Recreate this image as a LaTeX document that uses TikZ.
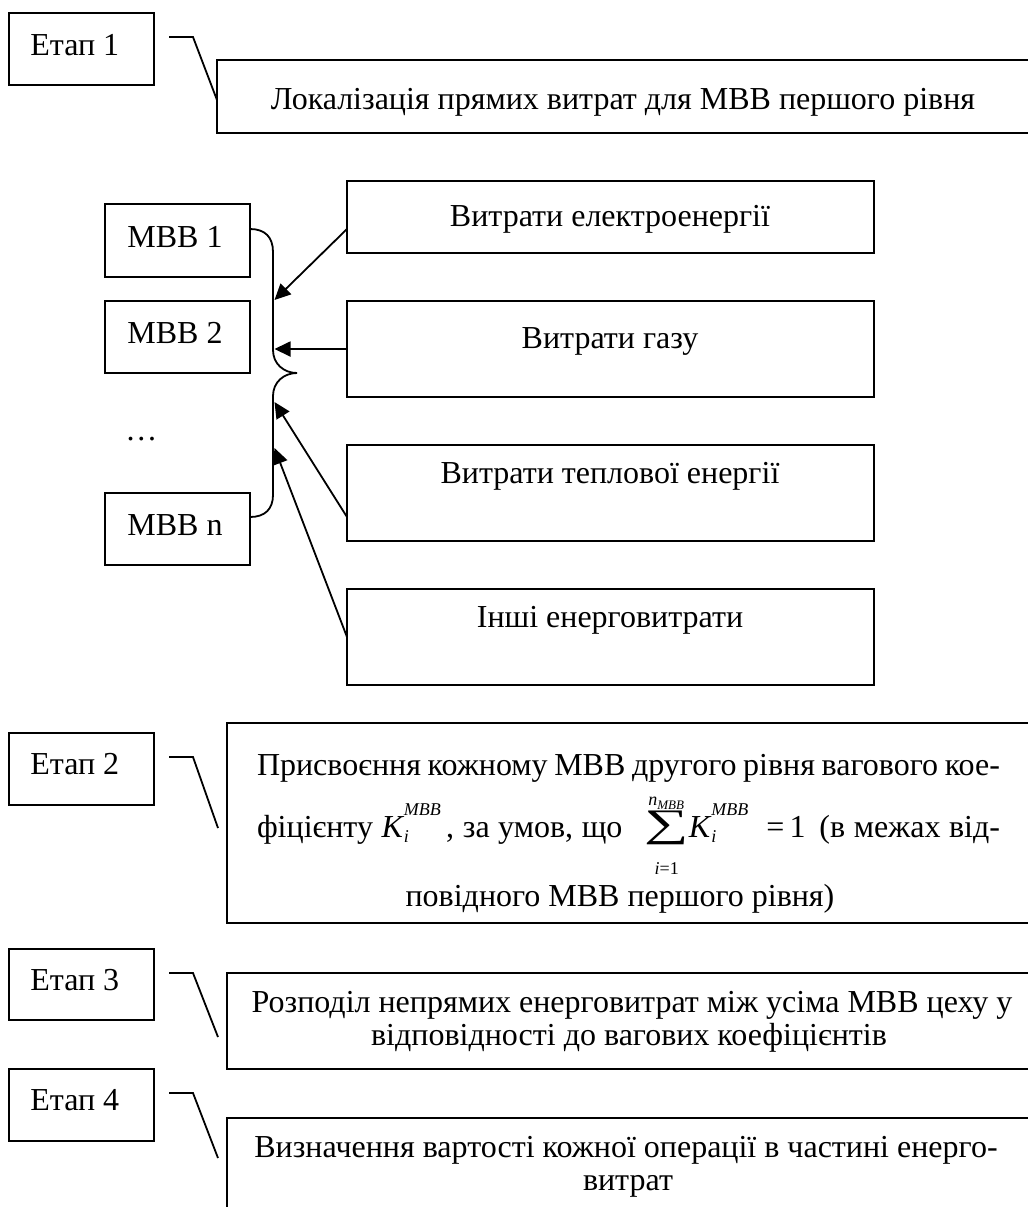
\documentclass[tikz,border=0pt]{standalone}
\usepackage{fontspec}
\usepackage{graphicx}
\setmainfont{Liberation Serif}
\usetikzlibrary{arrows.meta}
\newcommand\smallit[1]{\mbox{\fontsize{9}{9}\selectfont\itshape #1}}
\newcommand\tinyit[1]{\mbox{\fontsize{6.5}{6.5}\selectfont\itshape #1}}
\newcommand\KM{\mbox{\itshape K\kern0.5pt\rlap{\raisebox{11pt}{\smallit{MBB}}}\rlap{\raisebox{-2.5pt}{\smallit{i}}}\hphantom{\smallit{MBB}}}}
\newcommand\SumL{$\mathop{\vcenter{\hbox{\scalebox{1.6}[1]{\fontsize{19.5}{19.5}\selectfont ∑}}}}\limits^{\smallit{n}_{\tinyit{MBB}}}_{\smallit{\rule{0pt}{13pt}i\/\upshape =1}}$}
\newcommand\bxat[5]{\node[bx,minimum width=#4*0.5pt,minimum height=#5*0.5pt] (#1) at (#2,#3) {};}
\tikzset{
  ln/.style={line width=0.9pt},
  bx/.style={draw, line width=0.9pt, inner sep=0pt, outer sep=0pt, anchor=north west},
  tx/.style={inner sep=0pt, anchor=base},
  txl/.style={inner sep=0pt, anchor=base west},
  arr/.style={line width=0.9pt, -{Triangle[length=8pt,width=7.5pt]}},
}
\begin{document}
\begin{tikzpicture}[x=0.5pt,y=-0.5pt,font=\fontsize{16}{19}\selectfont]
\useasboundingbox (0,0) rectangle (1028,1207);
\fill[white] (0,0) rectangle (1028,1207);
\clip (0,0) rectangle (1028,1207);

% stage boxes
\bxat{s1}{9}{13}{145}{72}
\bxat{s2}{9}{733}{145}{72}
\bxat{s3}{9}{949}{145}{71}
\bxat{s4}{9}{1069}{145}{72}
\node[txl] (s1t) at (30,55) {Етап 1};
\node[txl] (s2t) at (30,774) {Етап 2};
\node[txl] (s3t) at (30,990) {Етап 3};
\node[txl] (s4t) at (30,1110) {Етап 4};

% description boxes
\bxat{d1}{217}{60}{830}{73}
\bxat{d2}{227}{723}{820}{200}
\bxat{d3}{227}{973}{820}{96}
\bxat{d4}{227}{1118}{820}{140}

\node[tx] (d1t) at (623,109) {Локалізація прямих витрат для МВВ першого рівня};
\node[tx] (d2a) at (628.5,775) {\makebox[371.5pt][s]{Присвоєння кожному МВВ другого рівня вагового кое-}};
\node[tx] (d2b) at (628.5,837) {\makebox[371.5pt][s]{фіцієнту \KM\,, за умов, що\hspace{11pt}\SumL\KM\hspace{9pt}=\,1\, (в межах від-}};
\node[tx] (d2c) at (620,906) {повідного МВВ першого рівня)};
\node[tx] (d3a) at (632,1012) {Розподіл непрямих енерговитрат між усіма МВВ цеху у};
\node[tx] (d3b) at (629,1045) {відповідності до вагових коефіцієнтів};
\node[tx] (d4a) at (626,1157) {Визначення вартості кожної операції в частині енерго-};
\node[tx] (d4b) at (628,1190) {витрат};

% stage connectors
\coordinate (k1a) at (169,37);   \coordinate (k1b) at (193,37);   \coordinate (k1c) at (217,100);
\coordinate (k2a) at (169,757);  \coordinate (k2b) at (193,757);  \coordinate (k2c) at (218,828);
\coordinate (k3a) at (169,973);  \coordinate (k3b) at (193,973);  \coordinate (k3c) at (218,1037);
\coordinate (k4a) at (169,1093); \coordinate (k4b) at (193,1093); \coordinate (k4c) at (218,1158);
\draw[ln] (k1a) -- (k1b) -- (k1c);
\draw[ln] (k2a) -- (k2b) -- (k2c);
\draw[ln] (k3a) -- (k3b) -- (k3c);
\draw[ln] (k4a) -- (k4b) -- (k4c);

% energy boxes
\bxat{el}{347}{181}{527}{72}
\bxat{gas}{347}{301}{527}{96}
\bxat{heat}{347}{445}{527}{96}
\bxat{oth}{347}{589}{527}{96}
\node[tx] (elt) at (610,226) {Витрати електроенергії};
\node[tx] (gast) at (610,348) {Витрати газу};
\node[tx] (heatt) at (610,483) {Витрати теплової енергії};
\node[tx] (otht) at (610,627) {Інші енерговитрати};

% MBB boxes
\bxat{m1}{105}{204}{145}{73}
\bxat{m2}{105}{301}{145}{72}
\bxat{mn}{105}{493}{145}{72}
\node[txl] (m1t) at (127,247) {МВВ 1};
\node[txl] (m2t) at (127,343) {МВВ 2};
\node[txl] (mnt) at (127,535) {МВВ n};
\node[txl] (dots) at (125,440) {\dots};

% brace
\coordinate (b0) at (250,229);
\coordinate (b1) at (273,252);
\coordinate (b2) at (273,350);
\coordinate (b3) at (297,373);
\coordinate (b4) at (273,396);
\coordinate (b5) at (273,495);
\coordinate (b6) at (250,517);
\draw[ln] (b0) .. controls (265,229) and (273,237) .. (b1) -- (b2)
  .. controls (273,364) and (284,373) .. (b3)
  .. controls (284,373) and (273,382) .. (b4) -- (b5)
  .. controls (273,509) and (265,517) .. (b6);

% arrows
\coordinate (a1s) at (347,229); \coordinate (a1e) at (274.5,300);
\coordinate (a2s) at (347,349); \coordinate (a2e) at (274.5,349);
\coordinate (a3s) at (347,517); \coordinate (a3e) at (274.5,402);
\coordinate (a4s) at (347,637); \coordinate (a4e) at (274.5,448);
\draw[arr] (a1s) -- (a1e);
\draw[arr] (a2s) -- (a2e);
\draw[arr] (a3s) -- (a3e);
\draw[arr] (a4s) -- (a4e);
\end{tikzpicture}
\end{document}
